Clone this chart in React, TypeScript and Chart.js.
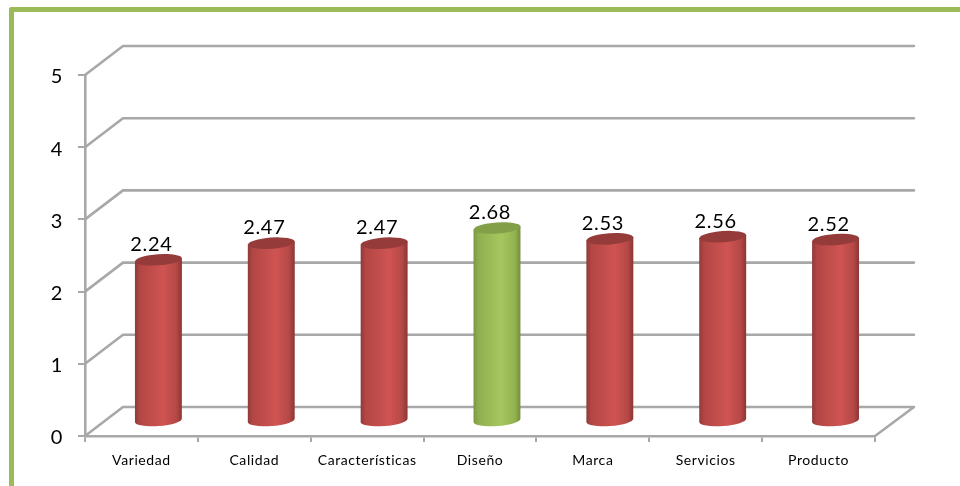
import { useEffect, useRef } from "react";
import { Chart, registerables } from "chart.js";

Chart.register(...registerables);

const categories = ["Variedad", "Calidad", "Características", "Diseño", "Marca", "Servicios", "Producto"];
const scores = [2.24, 2.47, 2.47, 2.68, 2.53, 2.56, 2.52];
const highlighted = ["Diseño"];
const yTicks = [0, 1, 2, 3, 4, 5];

// Oblique offset of the back wall relative to the front of the box.
const DEPTH_X = 38;
const DEPTH_Y = -29;
const CAP_RY = 5.6;
const CAP_TILT = -0.07;
const WALL = "#a8a8a8";
const LABEL_FONT = "Lato, 'Open Sans', sans-serif";

const boxPlugin = {
  id: "box",
  beforeDraw(chart: any) {
    // Axis text is tracked slightly wider than the font's default.
    chart.ctx.letterSpacing = "0.6px";
  },
  beforeDatasetsDraw(chart: any) {
    const { ctx, scales } = chart;
    const { left, right } = chart.chartArea;
    ctx.save();
    ctx.lineCap = "round";
    ctx.lineJoin = "round";
    ctx.lineWidth = 2.6;
    ctx.strokeStyle = WALL;
    for (const t of yTicks) {
      const y = scales.y.getPixelForValue(t);
      ctx.beginPath();
      ctx.moveTo(left, y);
      ctx.lineTo(left + DEPTH_X, y + DEPTH_Y);
      ctx.lineTo(right + DEPTH_X + 1, y + DEPTH_Y);
      if (t === 0) ctx.lineTo(right, y);
      ctx.stroke();
    }
    ctx.restore();
  },
};

const cylinderPlugin = {
  id: "cylinders",
  afterDatasetsDraw(chart: any) {
    const { ctx } = chart;
    const meta = chart.getDatasetMeta(0);
    meta.data.forEach((bar: any, i: number) => {
      const green = highlighted.includes(categories[i]);
      const rx = bar.width / 2;
      const cx = bar.x + DEPTH_X / 2 - 2;
      const topY = bar.y + DEPTH_Y / 2;
      const baseY = bar.base + DEPTH_Y / 2;
      const dy = Math.sin(CAP_TILT) * rx;

      const body = ctx.createLinearGradient(cx - rx, 0, cx + rx, 0);
      if (green) {
        body.addColorStop(0, "#7c9640");
        body.addColorStop(0.1, "#90ae4f");
        body.addColorStop(0.58, "#a6c75f");
        body.addColorStop(0.88, "#93b251");
        body.addColorStop(1, "#748d3b");
      } else {
        body.addColorStop(0, "#8e3a38");
        body.addColorStop(0.1, "#b24644");
        body.addColorStop(0.6, "#cf5452");
        body.addColorStop(0.88, "#b54846");
        body.addColorStop(1, "#8b3634");
      }

      ctx.save();
      ctx.fillStyle = body;
      ctx.beginPath();
      ctx.moveTo(cx - rx, topY - dy);
      ctx.lineTo(cx - rx, baseY - dy);
      ctx.ellipse(cx, baseY, rx, CAP_RY, CAP_TILT, Math.PI, 0, true);
      ctx.lineTo(cx + rx, topY + dy);
      ctx.closePath();
      ctx.fill();

      ctx.fillStyle = green ? "#83a048" : "#953c3a";
      ctx.beginPath();
      ctx.ellipse(cx, topY, rx, CAP_RY, CAP_TILT, 0, Math.PI * 2);
      ctx.fill();

      // Value printed just above the cap.
      ctx.fillStyle = "#000";
      ctx.font = `20px ${LABEL_FONT}`;
      (ctx as any).letterSpacing = "0.7px";
      ctx.textAlign = "center";
      ctx.textBaseline = "alphabetic";
      ctx.fillText(scores[i].toFixed(2), bar.x + 10, topY - 9);
      ctx.restore();
    });
  },
};

export default function App() {
  const canvas = useRef<HTMLCanvasElement>(null);

  useEffect(() => {
    const chart = new Chart(canvas.current!, {
      type: "bar",
      data: {
        labels: categories,
        datasets: [
          {
            data: scores,
            backgroundColor: "transparent",
            barPercentage: 0.416,
            categoryPercentage: 1,
          },
        ],
      },
      options: {
        animation: false,
        responsive: false,
        layout: { padding: { top: 75, right: 85, left: 0, bottom: 0 } },
        plugins: { legend: { display: false }, tooltip: { enabled: false } },
        scales: {
          x: {
            afterFit(scale: any) {
              scale.height = 50;
            },
            grid: { drawOnChartArea: false, drawTicks: true, tickLength: 6, color: WALL, lineWidth: 2 },
            border: { color: WALL, width: 2.6 },
            ticks: {
              color: "#000",
              padding: 10,
              maxRotation: 0,
              autoSkip: false,
              font: { family: LABEL_FONT, size: 14 },
            },
          },
          y: {
            min: 0,
            max: 5,
            afterFit(scale: any) {
              scale.width = 85;
            },
            grid: { drawOnChartArea: false, drawTicks: true, tickLength: 7, color: WALL, lineWidth: 2 },
            border: { color: WALL, width: 2.6 },
            ticks: {
              stepSize: 1,
              color: "#000",
              padding: 15,
              labelOffset: 2,
              font: { family: LABEL_FONT, size: 20 },
            },
          },
        },
      },
      plugins: [boxPlugin, cylinderPlugin],
    });
    return () => chart.destroy();
  }, []);

  return (
    <div style={{ position: "fixed", inset: 0, overflow: "hidden", background: "#fff" }}>
      <div
        style={{
          position: "absolute",
          left: 9,
          top: 7,
          width: 1000,
          height: 600,
          borderLeft: "5px solid #9bbb59",
          borderTop: "5px solid #9bbb59",
          borderTopLeftRadius: 3,
        }}
      />
      <canvas ref={canvas} width={960} height={486} style={{ position: "absolute", left: 0, top: 0 }} />
    </div>
  );
}
